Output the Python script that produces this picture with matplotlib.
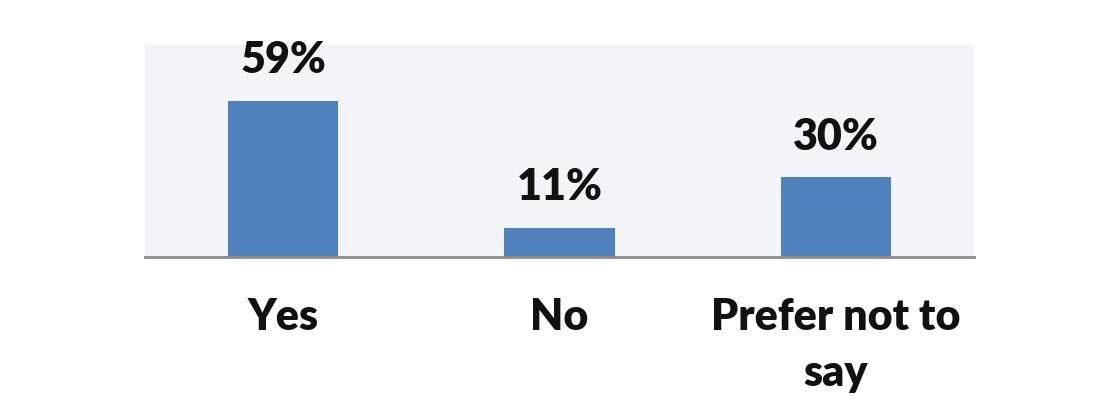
import matplotlib

matplotlib.use("Agg")
import matplotlib.pyplot as plt

categories = ["Yes", "No", "Prefer not to\nsay"]
values = [59, 11, 30]
value_labels = ["59%", "11%", "30%"]

plt.rcParams["font.family"] = ["Lato", "DejaVu Sans"]

fig = plt.figure(figsize=(11, 4.2), dpi=100)
ax = fig.add_axes([0.1318, 0.3888, 0.7536, 0.504])
ax.set_facecolor("#f3f4f7")

x = range(len(categories))
bars = ax.bar(x, values, width=0.4, color="#4f81bd", zorder=2)
for b, lab in zip(bars, value_labels):
    ax.annotate(lab, (b.get_x() + b.get_width() / 2, b.get_height()),
                xytext=(0, 20), textcoords="offset points",
                ha="center", va="baseline", fontsize=31, fontweight="heavy",
                color="#111111")

ax.set_xlim(-0.5, 2.5)
ax.set_ylim(0, 80)
ax.set_xticks(list(x))
ax.set_xticklabels(categories, fontsize=31, fontweight="heavy", color="#111111",
                   linespacing=1.5)
ax.tick_params(axis="x", length=0, pad=29)
ax.set_yticks([])
for s in ["top", "right", "left"]:
    ax.spines[s].set_visible(False)
ax.spines["bottom"].set_color("#8c8c8c")
ax.spines["bottom"].set_linewidth(2)

fig.savefig("out.png", dpi=100)
